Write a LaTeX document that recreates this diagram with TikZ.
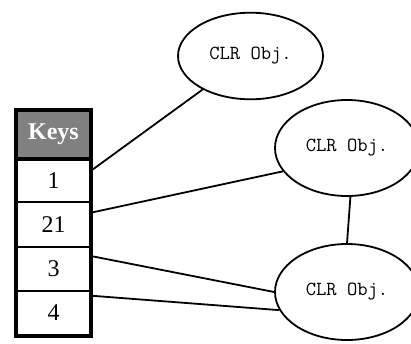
\documentclass[tikz,border=0pt]{standalone}
\usepackage{fontspec}
\setmainfont{Liberation Serif}
\usetikzlibrary{shapes.geometric}
\definecolor{hdrgray}{RGB}{128,128,128}
\begin{document}
\begin{tikzpicture}[x=1pt,y=-1pt,
  cell/.style={draw, line width=2pt, minimum width=73pt, minimum height=44.25pt, inner sep=0pt, font=\fontsize{24}{28}\selectfont},
  hdrcell/.style={cell, fill=hdrgray, text=white, font=\fontsize{24}{28}\selectfont\bfseries, minimum height=47pt},
  obj/.style={draw, ellipse, line width=1.8pt, minimum width=145pt, minimum height=96pt, inner sep=0pt, font=\ttfamily\fontsize{20}{23}\selectfont},
  link/.style={line width=1.8pt},
  frame/.style={line width=4pt}]
\path[use as bounding box] (0,0) rectangle (411,343);
% table
\node[hdrcell] (hdr) at (53.5,134.5) {Keys};
\node[cell] (k1) at (53.5,180.125) {1};
\node[cell] (k2) at (53.5,224.375) {21};
\node[cell] (k3) at (53.5,268.625) {3};
\node[cell] (k4) at (53.5,312.875) {4};
\draw[frame] (hdr.south west) -- (hdr.south east);
\draw[frame] (hdr.north west) rectangle (k4.south east);
% objects
\node[obj, minimum width=145pt, minimum height=86.6pt] (e1) at (250.5,56) {CLR Obj.};
\node[obj, minimum width=144pt] (e2) at (347,148) {CLR Obj.};
\node[obj, minimum width=144pt] (e3) at (347,292) {CLR Obj.};
% links
\draw[link] ([yshift=9.4pt]k1.east) -- (e1.215);
\draw[link] ([yshift=11.7pt]k2.east) -- (e2.200);
\draw[link] ([yshift=12.6pt]k3.east) -- (e3.180);
\draw[link] ([yshift=17.2pt]k4.east) -- (e3.195);
\draw[link] (e2.274) -- (e3.90);
\end{tikzpicture}
\end{document}
